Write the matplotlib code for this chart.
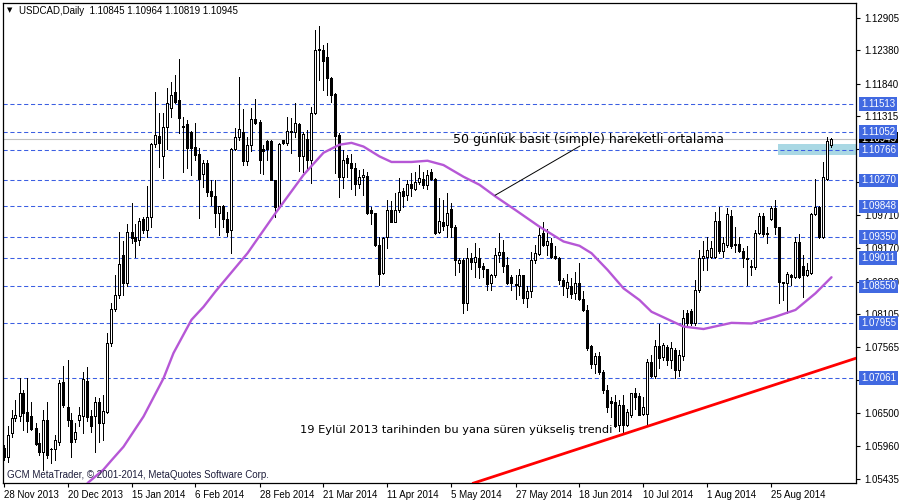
import numpy as np
import matplotlib
matplotlib.use("Agg")
import matplotlib.pyplot as plt
import matplotlib.transforms as mtransforms
from matplotlib.patches import Rectangle

plt.rcParams['font.family'] = ['Liberation Sans', 'DejaVu Sans']

# ---------------- data ----------------
chart_title = "USDCAD,Daily  1.10845 1.10964 1.10819 1.10945"
copyright_text = "GCM MetaTrader, \u00a9 2001-2014, MetaQuotes Software Corp."
sma_note = "50 g\u00fcnl\u00fck basit (simple) hareketli ortalama"
trend_note = "19 Eyl\u00fcl 2013 tarihinden bu yana s\u00fcren y\u00fckseli\u015f trendi"

opens = [1.0593,1.0579,1.0618,1.0641,1.0645,1.0683,1.0652,1.0645,1.0625,1.0601,
         1.0587,1.0638,1.0592,1.0592,1.0603,1.0700,1.0660,1.0638,1.0607,1.0638,
         1.0645,1.0702,1.0645,1.0645,1.0667,1.0633,1.0652,1.0763,1.0818,1.0841,
         1.0906,1.0860,1.0944,1.0936,1.0930,1.0964,1.0946,1.0967,1.1086,1.1099,
         1.1066,1.1114,1.1144,1.1171,1.1158,1.1115,1.1119,1.1106,1.1082,1.1070,
         1.1037,1.1056,1.1010,1.1002,1.0975,1.0986,1.0964,1.0946,1.1078,1.1097,
         1.1105,1.1059,1.1085,1.1127,1.1122,1.1078,1.1091,1.1091,1.1027,1.0984,
         1.1092,1.1088,1.1105,1.1106,1.1118,1.1067,1.1095,1.1060,1.1136,1.1240,
         1.1239,1.1227,1.1193,1.1167,1.1101,1.1033,1.1063,1.1056,1.1048,1.1022,
         1.1032,1.1034,1.0979,1.0974,1.0922,1.0877,1.0935,1.0979,1.0960,1.0979,
         1.1010,1.1003,1.1022,1.1013,1.1024,1.1029,1.1020,1.1040,1.1029,1.0944,
         1.0960,1.0955,1.0980,1.0952,1.0893,1.0898,1.0829,1.0901,1.0894,1.0902,
         1.0888,1.0883,1.0860,1.0874,1.0906,1.0911,1.0890,1.0871,1.0857,1.0856,
         1.0873,1.0836,1.0848,1.0898,1.0908,1.0941,1.0922,1.0925,1.0905,1.0902,
         1.0866,1.0852,1.0856,1.0844,1.0861,1.0834,1.0817,1.0759,1.0729,1.0742,
         1.0717,1.0687,1.0670,1.0668,1.0630,1.0663,1.0630,1.0647,1.0683,1.0677,
         1.0648,1.0648,1.0733,1.0710,1.0758,1.0740,1.0757,1.0736,1.0752,1.0720,
         1.0742,1.0812,1.0815,1.0795,1.0849,1.0902,1.0903,1.0903,1.0903,1.0961,
         1.0913,1.0922,1.0969,1.0924,1.0924,1.0913,1.0902,1.0888,1.0886,1.0941,
         1.0969,1.0940,1.0964,1.0982,1.0951,1.0862,1.0860,1.0874,1.0871,1.0927,
         1.0888,1.0873,1.0877,1.0973,1.0984,1.0935,1.1029,1.10845]
highs = [1.0598,1.0628,1.0655,1.0671,1.0706,1.0687,1.0706,1.0668,1.0633,1.0618,
         1.0655,1.0668,1.0593,1.0614,1.0703,1.0726,1.0736,1.0649,1.0633,1.0660,
         1.0717,1.0725,1.0655,1.0676,1.0674,1.0679,1.0779,1.0828,1.0874,1.0944,
         1.0929,1.0957,1.0990,1.0957,1.0966,1.0968,1.1018,1.1087,1.1171,1.1136,
         1.1136,1.1177,1.1187,1.1198,1.1224,1.1130,1.1125,1.1107,1.1120,1.1079,
         1.1060,1.1060,1.1028,1.1028,1.0986,1.0987,1.0976,1.1079,1.1112,1.1195,
         1.1143,1.1098,1.1144,1.1159,1.1125,1.1085,1.1093,1.1093,1.1028,1.1087,
         1.1093,1.1130,1.1128,1.1152,1.1120,1.1105,1.1109,1.1146,1.1271,1.1278,
         1.1247,1.1250,1.1195,1.1169,1.1104,1.1076,1.1068,1.1070,1.1055,1.1044,
         1.1045,1.1041,1.0984,1.0975,1.0936,1.0935,1.0995,1.0993,1.1006,1.1031,
         1.1014,1.1028,1.1039,1.1041,1.1052,1.1041,1.1044,1.1045,1.1031,1.0998,
         1.0995,1.1006,1.0990,1.0955,1.0901,1.0901,1.0917,1.0909,1.0925,1.0917,
         1.0893,1.0884,1.0876,1.0917,1.0941,1.0930,1.0903,1.0874,1.0874,1.0884,
         1.0874,1.0855,1.0911,1.0922,1.0952,1.0960,1.0949,1.0933,1.0921,1.0903,
         1.0868,1.0876,1.0868,1.0879,1.0893,1.0847,1.0825,1.0760,1.0747,1.0749,
         1.0720,1.0695,1.0676,1.0679,1.0671,1.0679,1.0657,1.0683,1.0690,1.0683,
         1.0675,1.0737,1.0744,1.0768,1.0794,1.0763,1.0760,1.0765,1.0755,1.0752,
         1.0817,1.0817,1.0818,1.0866,1.0914,1.0928,1.0936,1.0928,1.0976,1.0984,
         1.0936,1.0982,1.0979,1.0952,1.0936,1.0917,1.0920,1.0898,1.0947,1.0974,
         1.0974,1.0952,1.0986,1.0996,1.0952,1.0863,1.0879,1.0876,1.0935,1.0940,
         1.0906,1.0893,1.0974,1.1029,1.0985,1.1057,1.1098,1.10964]
lows = [1.0573,1.0571,1.0611,1.0636,1.0636,1.0622,1.0619,1.0622,1.0598,1.0582,
        1.0557,1.0576,1.0569,1.0574,1.0598,1.0660,1.0628,1.0579,1.0603,1.0628,
        1.0617,1.0636,1.0619,1.0587,1.0603,1.0606,1.0649,1.0758,1.0816,1.0836,
        1.0841,1.0855,1.0926,1.0903,1.0923,1.0941,1.0936,1.0952,1.1081,1.1049,
        1.1031,1.1078,1.1130,1.1152,1.1104,1.1041,1.1047,1.1036,1.1060,1.0966,
        1.1017,1.1001,1.0987,1.0952,1.0939,1.0952,1.0937,1.0909,1.1076,1.1093,
        1.1052,1.1052,1.1074,1.1119,1.1039,1.1038,1.1061,1.1027,1.0968,1.0983,
        1.1086,1.1085,1.1071,1.1098,1.1043,1.1041,1.1044,1.1023,1.1135,1.1190,
        1.1174,1.1166,1.1154,1.1039,1.1000,1.1015,1.1033,1.1013,1.1003,1.1015,
        1.1003,1.0973,1.0957,1.0920,1.0857,1.0876,1.0917,1.0959,1.0959,1.0976,
        1.0984,1.0995,1.1001,1.1012,1.1022,1.1014,1.1013,1.1028,1.0940,1.0941,
        1.0947,1.0936,1.0936,1.0874,1.0879,1.0812,1.0817,1.0884,1.0871,1.0868,
        1.0871,1.0850,1.0849,1.0871,1.0895,1.0879,1.0859,1.0850,1.0834,1.0841,
        1.0828,1.0821,1.0838,1.0893,1.0906,1.0920,1.0906,1.0901,1.0899,1.0859,
        1.0841,1.0838,1.0836,1.0834,1.0833,1.0816,1.0752,1.0722,1.0714,1.0713,
        1.0683,1.0652,1.0644,1.0627,1.0621,1.0618,1.0629,1.0644,1.0657,1.0646,
        1.0647,1.0630,1.0708,1.0707,1.0722,1.0736,1.0728,1.0723,1.0707,1.0710,
        1.0736,1.0790,1.0792,1.0792,1.0846,1.0882,1.0882,1.0901,1.0901,1.0909,
        1.0903,1.0919,1.0917,1.0911,1.0911,1.0887,1.0857,1.0874,1.0884,1.0940,
        1.0937,1.0926,1.0963,1.0940,1.0828,1.0833,1.0812,1.0857,1.0868,1.0868,
        1.0838,1.0872,1.0876,1.0971,1.0934,1.0934,1.1028,1.10819]
closes = [1.0578,1.0614,1.0641,1.0647,1.0682,1.0650,1.0637,1.0623,1.0599,1.0587,
          1.0638,1.0582,1.0591,1.0606,1.0698,1.0663,1.0638,1.0603,1.0619,1.0647,
          1.0705,1.0644,1.0628,1.0667,1.0633,1.0653,1.0764,1.0818,1.0841,1.0891,
          1.0860,1.0944,1.0933,1.0928,1.0962,1.0946,1.0967,1.1086,1.1100,1.1087,
          1.1114,1.1152,1.1166,1.1155,1.1129,1.1113,1.1080,1.1080,1.1068,1.1029,
          1.1055,1.1009,1.1002,1.0975,1.0985,1.0964,1.0944,1.1078,1.1097,1.1111,
          1.1059,1.1085,1.1127,1.1120,1.1061,1.1075,1.1078,1.1028,1.0984,1.1086,
          1.1087,1.1107,1.1107,1.1120,1.1067,1.1102,1.1060,1.1136,1.1239,1.1238,
          1.1221,1.1193,1.1166,1.1099,1.1033,1.1060,1.1055,1.1048,1.1022,1.1032,
          1.1036,1.0975,1.0975,1.0922,1.0876,1.0934,1.0979,1.0960,1.0979,1.1009,
          1.1002,1.1021,1.1014,1.1025,1.1031,1.1020,1.1036,1.1029,1.0941,1.0962,
          1.0953,1.0974,1.0952,1.0898,1.0898,1.0829,1.0901,1.0895,1.0903,1.0887,
          1.0884,1.0859,1.0874,1.0906,1.0911,1.0888,1.0861,1.0860,1.0859,1.0874,
          1.0836,1.0848,1.0898,1.0909,1.0939,1.0922,1.0929,1.0903,1.0902,1.0866,
          1.0856,1.0862,1.0843,1.0861,1.0834,1.0817,1.0756,1.0730,1.0742,1.0717,
          1.0687,1.0660,1.0666,1.0629,1.0663,1.0630,1.0652,1.0682,1.0676,1.0647,
          1.0660,1.0733,1.0710,1.0758,1.0739,1.0760,1.0736,1.0755,1.0720,1.0744,
          1.0804,1.0795,1.0795,1.0850,1.0901,1.0905,1.0914,1.0917,1.0961,1.0913,
          1.0925,1.0972,1.0920,1.0922,1.0913,1.0902,1.0900,1.0886,1.0941,1.0969,
          1.0940,1.0942,1.0982,1.0951,1.0863,1.0860,1.0876,1.0871,1.0927,1.0871,
          1.0874,1.0882,1.0973,1.0984,1.0935,1.1033,1.1091,1.10945]

date_labels = ["28 Nov 2013", "20 Dec 2013", "15 Jan 2014", "6 Feb 2014", "28 Feb 2014",
               "21 Mar 2014", "11 Apr 2014", "5 May 2014", "27 May 2014", "18 Jun 2014",
               "10 Jul 2014", "1 Aug 2014", "25 Aug 2014"]
date_label_bars = [0, 16, 32, 48, 64, 80, 96, 112, 128, 144, 160, 176, 192]

price_ticks = [1.12905, 1.12380, 1.11840, 1.11315, 1.10785, 1.10245, 1.09710, 1.09170,
               1.08630, 1.08105, 1.07565, 1.07035, 1.06500, 1.05960, 1.05435]
hidden_ticks = [1.10785, 1.10245, 1.07035]   # covered by level labels in the reference
level_prices = [1.11513, 1.11052, 1.10766, 1.10270, 1.09848, 1.09350, 1.09011,
                1.08550, 1.07955, 1.07061]
current_price = 1.10945

sma_bars = [21, 25, 27, 30, 35, 40, 42.5, 44.5, 47, 50, 53, 61, 68, 75, 80, 84, 87, 90,
            94, 97, 102, 106, 110, 115, 119, 123, 128, 134, 140, 144, 147, 151, 155, 159,
            162, 165, 170, 175, 182, 187, 193, 198, 203, 207]
sma_values = [1.0536, 1.0558, 1.0573, 1.0595, 1.0644, 1.0706, 1.0747, 1.0771, 1.0801,
              1.0822, 1.0847, 1.0909, 1.0974, 1.1036, 1.1072, 1.1085, 1.1088, 1.1082,
              1.1066, 1.1057, 1.1057, 1.1059, 1.1052, 1.1033, 1.1020, 1.1001, 1.0979,
              1.0952, 1.0928, 1.0921, 1.0909, 1.0882, 1.0852, 1.0833, 1.0814, 1.0805,
              1.0790, 1.0786, 1.0796, 1.0795, 1.0806, 1.0817, 1.0844, 1.0870]

trend_bars = [117.5, 213.3]
trend_prices = [1.0536, 1.0739]

zone_bars = [193.6, 214.0]
zone_prices = [1.1068, 1.1086]

# ---------------- figure ----------------
W, H = 900, 500
fig = plt.figure(figsize=(9, 5), dpi=100)
fig.patch.set_facecolor('white')
ax = fig.add_axes([3 / W, 17 / H, 853 / W, 480 / H])
ax.set_facecolor('white')
ax.set_xlim(-0.125, 213.125)
ax.set_ylim(1.05362, 1.13149)

LEVEL_BLUE = '#3b5fe2'
LABEL_BLUE = '#4169e1'

# rectangle object
ax.add_patch(Rectangle((zone_bars[0], zone_prices[0]), zone_bars[1] - zone_bars[0],
                       zone_prices[1] - zone_prices[0], facecolor='#a9d8e4',
                       edgecolor='none', zorder=0.5, clip_on=True))
# current price line
ax.axhline(current_price, color='#c0c0c0', lw=0.8, zorder=0.6)
# horizontal levels
for lv in level_prices:
    ax.axhline(lv, color=LEVEL_BLUE, lw=0.75, ls=(0, (4, 2.6)), zorder=1)

# candles
x = np.arange(len(closes))
o = np.array(opens); h = np.array(highs); l = np.array(lows); c = np.array(closes)
ax.vlines(x, l, h, colors='black', lw=0.7, zorder=3, antialiased=False)
body_bottom = np.minimum(o, c)
body_height = np.maximum(np.abs(c - o), 0.00002)
body_colors = ['white' if cc >= oo else 'black' for oo, cc in zip(o, c)]
ax.bar(x, body_height, bottom=body_bottom, width=0.5, color=body_colors,
       edgecolor='black', linewidth=0.7, zorder=4, antialiased=False)

# moving average
ax.plot(sma_bars, sma_values, color='#b657d6', lw=1.7, zorder=5, solid_capstyle='round',
        solid_joinstyle='round')

# trend line
ax.plot(trend_bars, trend_prices, color='#ff0000', lw=2.0, zorder=5)

# axes styling
for sp in ax.spines.values():
    sp.set_color('black')
    sp.set_linewidth(0.9)
ax.yaxis.tick_right()
ax.set_yticks(price_ticks)
ax.set_yticklabels(['' if t in hidden_ticks else f"{t:.5f}" for t in price_ticks])
ax.tick_params(axis='y', direction='out', length=3, width=0.8, labelsize=7, pad=3,
               colors='black')
ax.set_xticks(date_label_bars)
ax.set_xticklabels(date_labels, ha='left')
ax.tick_params(axis='x', direction='out', length=3, width=0.8, labelsize=7, pad=2,
               colors='black')

# price labels on the right
trans = mtransforms.offset_copy(ax.get_yaxis_transform(), fig=fig, x=5, y=0, units='dots')
ax.text(1.0, current_price, f"{current_price:.5f}", transform=trans, ha='left', va='center',
        fontsize=7, color='white', clip_on=False, zorder=6,
        bbox=dict(boxstyle='square,pad=0.2', fc='black', ec='none'))
for lv in level_prices:
    ax.text(1.0, lv, f"{lv:.5f}", transform=trans, ha='left', va='center', fontsize=7,
            color='white', clip_on=False, zorder=7,
            bbox=dict(boxstyle='square,pad=0.2', fc=LABEL_BLUE, ec='none'))

# header & footer texts
fig.text(10 / W, 1 - 10.5 / H, '\u25bc', fontsize=5, ha='center', va='center',
         family='DejaVu Sans', color='black')
fig.text(19 / W, 1 - 11 / H, chart_title, fontsize=7, ha='left', va='center', color='black')
fig.text(7 / W, 1 - 475 / H, copyright_text, fontsize=7, ha='left', va='center',
         color='#1e1e3c')

# annotations
ax.annotate('', xy=(122.9, 1.1003), xytext=(580, H - 146), textcoords='figure pixels',
            arrowprops=dict(arrowstyle='-', color='black', lw=0.7, shrinkA=0, shrinkB=0),
            zorder=6)
fig.text(453 / W, 1 - 139 / H, sma_note, fontsize=9, family=['DejaVu Sans'],
         ha='left', va='center', color='black')
fig.text(300 / W, 1 - 430 / H, trend_note, fontsize=8.2, family=['DejaVu Sans'],
         ha='left', va='center', color='black')

fig.savefig('out.png', dpi=100, facecolor='white')
